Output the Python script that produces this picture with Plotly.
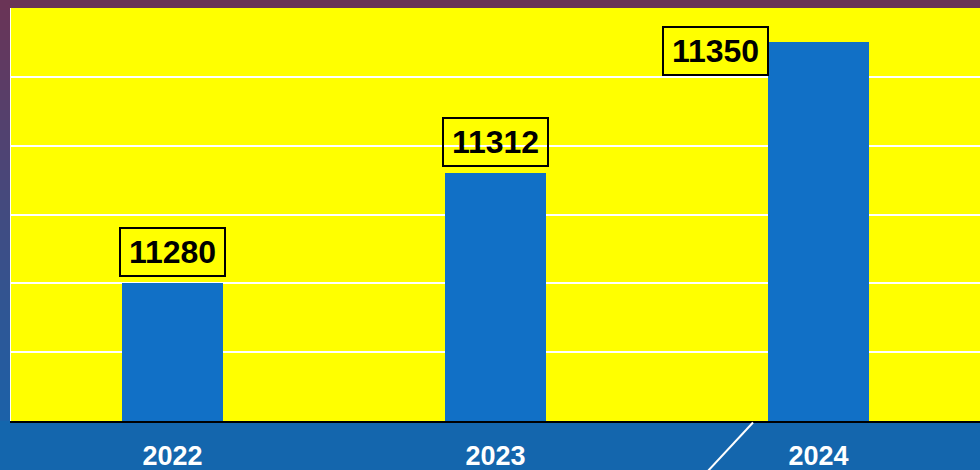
import plotly.graph_objects as go

# ---- data ----
years = ["2022", "2023", "2024"]
values = [11280, 11312, 11350]
y_range = [11240, 11360]
grid_step = 20

BAR_W = 0.313
W, H = 980, 470
ML, MR, MT, MB = 11, 0, 8, 49

fig = go.Figure()
fig.add_trace(go.Bar(
    x=years, y=values, width=BAR_W,
    marker=dict(color="#1170C6", line=dict(width=0)),
    hoverinfo="x+y",
))

# ---- background gradient (purple -> blue), drawn as thin slices ----
top_rgb = (0x6B, 0x33, 0x55)
bot_rgb = (0x12, 0x67, 0xB3)
n = 47
plot_h = H - MT - MB
pw = W - ML - MR
shapes = []
for i in range(n):
    t = (i + 0.5) / n
    c = tuple(int(round(top_rgb[k] + (bot_rgb[k] - top_rgb[k]) * t)) for k in range(3))
    py0 = i * H / n
    py1 = (i + 1) * H / n + 0.6
    y0 = (H - MB - py0) / plot_h
    y1 = (H - MB - py1) / plot_h
    shapes.append(dict(type="rect", xref="paper", yref="paper",
                       x0=-ML / pw - 0.01, x1=1.01, y0=y1, y1=y0,
                       fillcolor="rgb(%d,%d,%d)" % c, line=dict(width=0), layer="below"))
# bottom band (uniform blue)
shapes.append(dict(type="rect", xref="paper", yref="paper",
                   x0=-0.02, x1=1.02, y0=-MB / plot_h - 0.01, y1=0,
                   fillcolor="#1466AD", line=dict(width=0), layer="below"))
# yellow plot area
shapes.append(dict(type="rect", xref="paper", yref="paper",
                   x0=0, x1=1, y0=0, y1=1,
                   fillcolor="#FFFF00", line=dict(width=0), layer="below"))
# decorative diagonal line in the bottom band
shapes.append(dict(type="line", xref="paper", yref="paper",
                   x0=(753 - ML) / pw, y0=-1.5 / plot_h,
                   x1=(705 - ML) / pw, y1=-MB / plot_h - 0.01,
                   line=dict(color="white", width=2), layer="above"))

# ---- value labels ----
label_font = dict(family="Liberation Sans", size=32, color="black", weight="bold")
annotations = []
for i, (yr, v) in enumerate(zip(years, values)):
    common = dict(xref="x", yref="y", text=str(v), showarrow=False,
                  font=label_font, bordercolor="black", borderwidth=2, borderpad=5,
                  bgcolor="rgba(0,0,0,0)", width=93, height=36, align="center",
                  valign="middle")
    if i == len(years) - 1:
        annotations.append(dict(x=i - BAR_W / 2, y=v, xanchor="right", yanchor="top",
                                yshift=16, xshift=1, **common))
    else:
        annotations.append(dict(x=i, y=v, xanchor="center", yanchor="bottom",
                                yshift=6, **common))

fig.update_layout(
    width=W, height=H,
    margin=dict(l=ML, r=MR, t=MT, b=MB, pad=0, autoexpand=False),
    paper_bgcolor="#1466AD",
    plot_bgcolor="rgba(0,0,0,0)",
    showlegend=False,
    bargap=0,
    shapes=shapes,
    annotations=annotations,
    xaxis=dict(
        type="category", range=[-0.5, 2.5], automargin=False,
        showgrid=False, showline=True, linecolor="black", linewidth=2,
        ticks="", ticklabelstandoff=10,
        tickfont=dict(family="Liberation Sans", size=27, color="white", weight="bold"),
        fixedrange=True,
    ),
    yaxis=dict(
        range=y_range, dtick=grid_step, tick0=y_range[0], automargin=False,
        showgrid=True, gridcolor="white", gridwidth=2,
        showticklabels=False, zeroline=False,
        showline=True, linecolor="white", linewidth=1,
        fixedrange=True,
    ),
)

fig.write_html(
    "out.html",
    config={"displayModeBar": False},
    post_script="document.body.style.margin='0';document.body.style.overflow='hidden';"
                "document.body.style.background='#1466AD';",
)
